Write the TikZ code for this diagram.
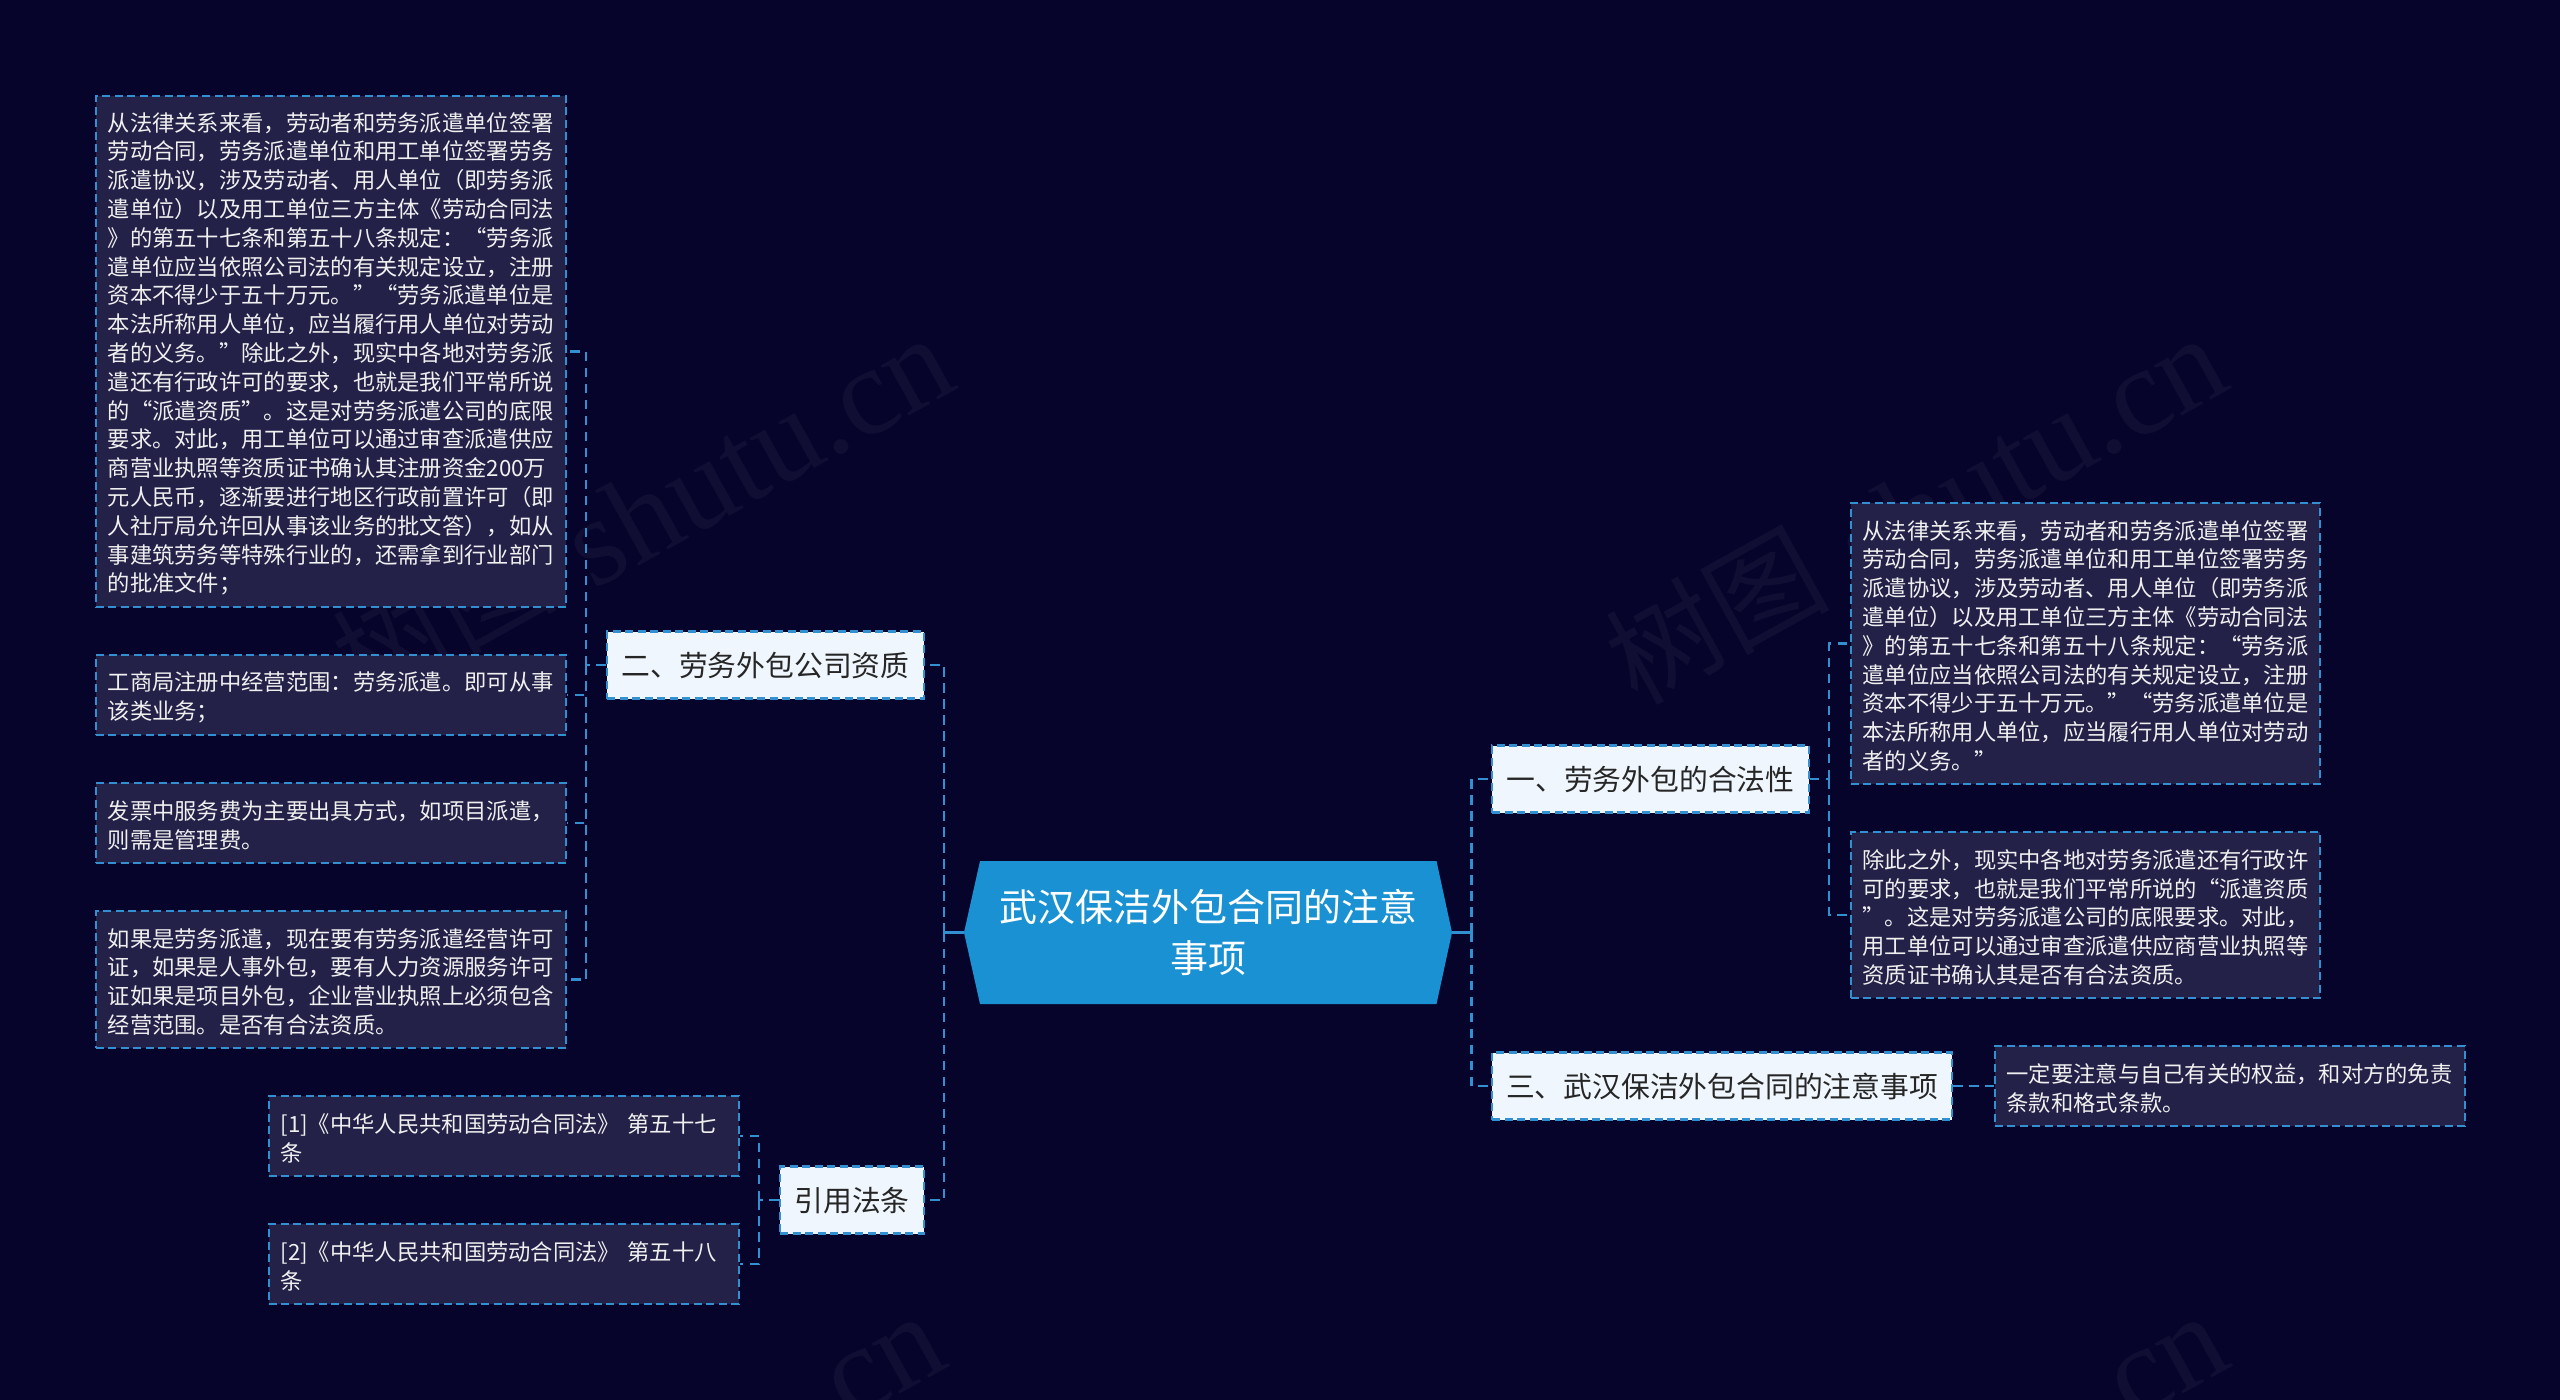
\documentclass[tikz,border=0pt]{standalone}
\usepackage{fontspec}
\setmainfont{Noto Sans CJK SC}
\newfontfamily\wmfont{Liberation Serif}
\newfontfamily\wmcjk{Noto Sans CJK SC}
\definecolor{bgc}{HTML}{06042B}
\definecolor{leaffill}{HTML}{232147}
\definecolor{edgec}{HTML}{3390D0}
\definecolor{nodefill}{HTML}{EFF6FD}
\definecolor{rootfill}{HTML}{1A91D2}
\definecolor{wmc}{HTML}{100E33}
\tikzset{
  x=1pt,y=-1pt,
  leaf/.style={rectangle,draw=edgec,fill=leaffill,line width=2pt,dash pattern=on 8pt off 4.5pt,
    inner sep=0pt,text=white!94!black,align=left,font=\fontsize{22.3}{28.8}\selectfont,
    execute at begin node={\leavevmode\rule{0pt}{23.5pt}}},
  branch/.style={rectangle,draw=edgec,fill=nodefill,line width=2.2pt,dash pattern=on 8pt off 4.5pt,
    inner sep=0pt,text=black!85,align=center,font=\fontsize{28.8}{36}\selectfont,minimum height=67pt},
  conn/.style={draw=edgec,line width=2.4pt,dash pattern=on 9.5pt off 6.5pt},
  rootlink/.style={draw=edgec,line width=3.5pt},
  wm/.style={text=wmc,rotate=29,inner sep=0pt},
  wmzh/.style={wm,font=\wmcjk\fontsize{112}{112}\selectfont},
  wmen/.style={wm,font=\wmfont\fontsize{125}{125}\selectfont},
}
\begin{document}
\begin{tikzpicture}
\useasboundingbox (0,0) rectangle (2560,1400);
\fill[bgc] (0,0) rectangle (2560,1400);
\begin{scope}
\clip (0,0) rectangle (2560,1400);
\node[wmzh] (wma) at (442,615) {树图};
\node[wmen] (wmb) at (757,452) {shutu.cn};
\node[wmzh] (wmc1) at (1715,615) {树图};
\node[wmen] (wmd) at (2030,452) {shutu.cn};
\node[wmen] (wme) at (887,1369) {cn};
\node[wmen] (wmf) at (2170,1369) {cn};
\end{scope}
% root
\fill[rootfill] (964,932.5) -- (980,861) -- (1436.5,861) -- (1452,932.5) -- (1436.5,1004) -- (980,1004) -- cycle;
\node[rectangle,inner sep=0pt,minimum width=488pt,minimum height=143pt,text=white,align=center,
  font=\fontsize{38}{51}\selectfont] (root) at (1208,932.5) {武汉保洁外包合同的注意\\事项};
% branches
\node[branch,minimum width=317pt,text depth=2pt] (b2) at (765.5,665) {二、劳务外包公司资质};
\node[branch,minimum width=144pt,text depth=2pt] (b4) at (852,1200) {引用法条};
\node[branch,minimum width=316.5pt,text depth=2pt] (b1) at (1650.5,779) {一、劳务外包的合法性};
\node[branch,minimum width=460pt,text depth=2pt] (b3) at (1722,1086) {三、武汉保洁外包合同的注意事项};
% left leaves
\node[leaf,minimum width=470.5pt,minimum height=511pt,text width=446pt] (l1) at (330.75,351.5) {从法律关系来看，劳动者和劳务派遣单位签署\\
劳动合同，劳务派遣单位和用工单位签署劳务\\
派遣协议，涉及劳动者、用人单位（即劳务派\\
遣单位）以及用工单位三方主体《劳动合同法\\
》的第五十七条和第五十八条规定：“劳务派\\
遣单位应当依照公司法的有关规定设立，注册\\
资本不得少于五十万元。”“劳务派遣单位是\\
本法所称用人单位，应当履行用人单位对劳动\\
者的义务。”除此之外，现实中各地对劳务派\\
遣还有行政许可的要求，也就是我们平常所说\\
的“派遣资质”。这是对劳务派遣公司的底限\\
要求。对此，用工单位可以通过审查派遣供应\\
商营业执照等资质证书确认其注册资金200万\\
元人民币，逐渐要进行地区行政前置许可（即\\
人社厅局允许回从事该业务的批文答），如从\\
事建筑劳务等特殊行业的，还需拿到行业部门\\
的批准文件；};
\node[leaf,minimum width=470.5pt,minimum height=80pt,text width=446pt] (l2) at (330.75,695) {工商局注册中经营范围：劳务派遣。即可从事\\该类业务；};
\node[leaf,minimum width=470.5pt,minimum height=80pt,text width=446pt] (l3) at (330.75,823) {发票中服务费为主要出具方式，如项目派遣，\\则需是管理费。};
\node[leaf,minimum width=470.5pt,minimum height=137pt,text width=446pt] (l4) at (330.75,979.5) {如果是劳务派遣，现在要有劳务派遣经营许可\\
证，如果是人事外包，要有人力资源服务许可\\
证如果是项目外包，企业营业执照上必须包含\\
经营范围。是否有合法资质。};
\node[leaf,minimum width=470pt,minimum height=80pt,text width=446pt] (l5) at (503.5,1136) {[1]《中华人民共和国劳动合同法》 第五十七\\条};
\node[leaf,minimum width=470pt,minimum height=80pt,text width=446pt] (l6) at (503.5,1264) {[2]《中华人民共和国劳动合同法》 第五十八\\条};
% right leaves
\node[leaf,minimum width=469.5pt,minimum height=280.5pt,text width=446pt] (r1) at (2085.5,643.5) {从法律关系来看，劳动者和劳务派遣单位签署\\
劳动合同，劳务派遣单位和用工单位签署劳务\\
派遣协议，涉及劳动者、用人单位（即劳务派\\
遣单位）以及用工单位三方主体《劳动合同法\\
》的第五十七条和第五十八条规定：“劳务派\\
遣单位应当依照公司法的有关规定设立，注册\\
资本不得少于五十万元。”“劳务派遣单位是\\
本法所称用人单位，应当履行用人单位对劳动\\
者的义务。”};
\node[leaf,minimum width=469.5pt,minimum height=166pt,text width=446pt] (r2) at (2085.5,915) {除此之外，现实中各地对劳务派遣还有行政许\\
可的要求，也就是我们平常所说的“派遣资质\\
”。这是对劳务派遣公司的底限要求。对此，\\
用工单位可以通过审查派遣供应商营业执照等\\
资质证书确认其是否有合法资质。};
\node[leaf,minimum width=470pt,minimum height=80pt,text width=446pt] (r3) at (2229.5,1086) {一定要注意与自己有关的权益，和对方的免责\\条款和格式条款。};
% junction coordinates
\coordinate (tl) at (944,932.5);
\coordinate (tr) at (1471.5,932.5);
\coordinate (jl2) at (586,665);
\coordinate (jl4) at (759,1200);
\coordinate (jr1) at (1829,779);
% root links
\draw[rootlink] (root.west) -- (tl);
\draw[rootlink] (root.east) -- (tr);
\draw[conn] (tl) |- (b2.east);
\draw[conn] (tl) |- (b4.east);
\draw[conn] (tr) |- (b1.west);
\draw[conn] (tr) |- (b3.west);
% branch 2
\draw[conn] (b2.west) -- (jl2);
\draw[conn] (jl2) |- (l1.east);
\draw[conn] (jl2) |- (l2.east);
\draw[conn] (jl2) |- (l3.east);
\draw[conn] (jl2) |- (l4.east);
% branch 4
\draw[conn] (b4.west) -- (jl4);
\draw[conn] (jl4) |- (l5.east);
\draw[conn] (jl4) |- (l6.east);
% branch 1
\draw[conn] (b1.east) -- (jr1);
\draw[conn] (jr1) |- (r1.west);
\draw[conn] (jr1) |- (r2.west);
% branch 3
\draw[conn] (b3.east) -- (r3.west);
\end{tikzpicture}
\end{document}
